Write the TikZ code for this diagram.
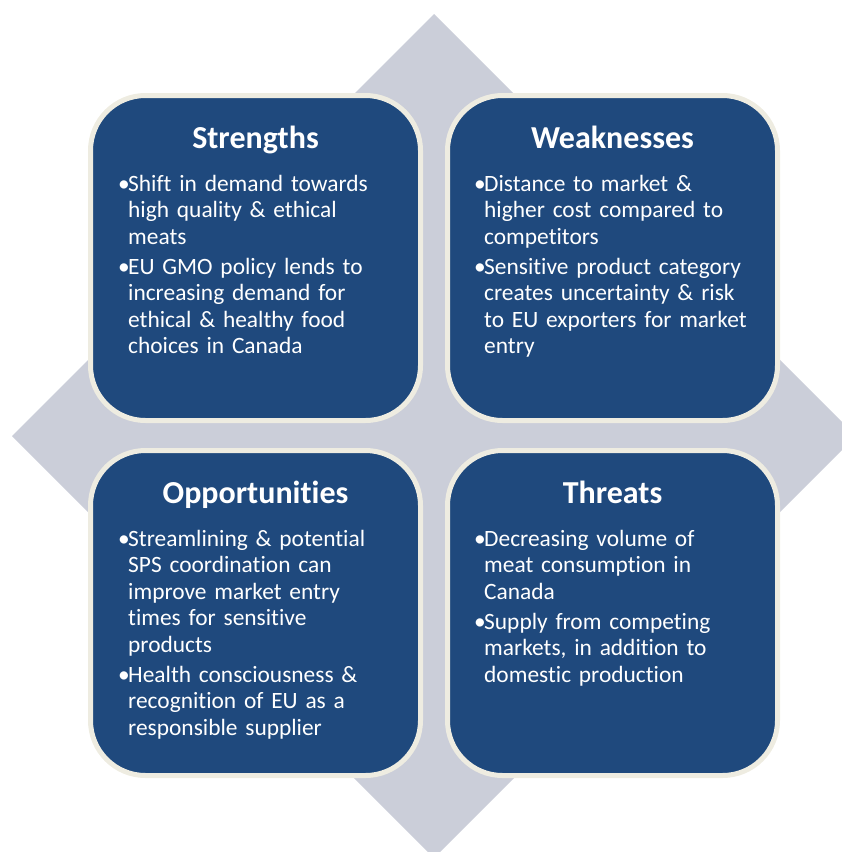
\documentclass[tikz,border=0pt]{standalone}
\usepackage{fontspec}
\setmainfont[Ligatures=NoCommon]{Carlito}
\usetikzlibrary{positioning}
\definecolor{swotblue}{RGB}{31, 73, 125}
\definecolor{swotedge}{RGB}{238, 236, 225}
\definecolor{swotgray}{RGB}{203, 206, 217}
\newcommand{\swotitem}[1]{\par\hangindent=10pt\hangafter=1\noindent\makebox[10pt][l]{•}#1\par}

\begin{document}
\begin{tikzpicture}[x=1pt, y=-1pt]
            \useasboundingbox (0,0) rectangle (842,852);
            % Rombo de fondo
            \fill[swotgray] (434,14) -- (856,436) -- (434,858) -- (12,436) -- cycle;

            % Cuadros
            \node[rectangle, draw=swotedge, line width=5pt, fill=swotblue, rounded corners=55pt, minimum width=330pt, minimum height=325pt] (strengths) at (255.5,258) {};
            \node[rectangle, draw=swotedge, line width=5pt, fill=swotblue, rounded corners=55pt, minimum width=330pt, minimum height=325pt, right=22pt of strengths] (weaknesses) {};
            \node[rectangle, draw=swotedge, line width=5pt, fill=swotblue, rounded corners=55pt, minimum width=330pt, minimum height=325pt, below=25pt of strengths] (opport) {};
            \node[rectangle, draw=swotedge, line width=5pt, fill=swotblue, rounded corners=55pt, minimum width=330pt, minimum height=325pt, below=25pt of weaknesses] (threats) {};

            % Titulos
            \node[anchor=base, text=white, font=\fontsize{32}{38}\selectfont\bfseries] (strtitle) at ([yshift=-55.5pt]strengths.north) {Strengths};
            \node[anchor=base, text=white, font=\fontsize{32}{38}\selectfont\bfseries] (weaktitle) at ([yshift=-55.5pt]weaknesses.north) {Weaknesses};
            \node[anchor=base, text=white, font=\fontsize{32}{38}\selectfont\bfseries] (opptitle) at ([yshift=-55.5pt]opport.north) {Opportunities};
            \node[anchor=base, text=white, font=\fontsize{32}{38}\selectfont\bfseries] (thrtitle) at ([yshift=-55.5pt]threats.north) {Threats};

            % Puntos
            \node[anchor=north west, inner sep=0pt, text=white, text width=300pt, font=\fontsize{23.4}{26.5}\selectfont] (strtext) at ([xshift=30pt, yshift=-71.5pt]strengths.north west) {%
                \swotitem{Shift in demand towards\newline high quality \& ethical\newline meats}\vspace{3.5pt}%
                \swotitem{EU GMO policy lends to\newline increasing demand for\newline ethical \& healthy food\newline choices in Canada}};
            \node[anchor=north west, inner sep=0pt, text=white, text width=300pt, font=\fontsize{23.4}{26.5}\selectfont] (weaktext) at ([xshift=29pt, yshift=-71.5pt]weaknesses.north west) {%
                \swotitem{Distance to market \&\newline higher cost compared to\newline competitors}\vspace{3.5pt}%
                \swotitem{Sensitive product category\newline creates uncertainty \& risk\newline to EU exporters for market\newline entry}};
            \node[anchor=north west, inner sep=0pt, text=white, text width=300pt, font=\fontsize{23.4}{26.5}\selectfont] (opptext) at ([xshift=30pt, yshift=-71.5pt]opport.north west) {%
                \swotitem{Streamlining \& potential\newline SPS coordination can\newline improve market entry\newline times for sensitive\newline products}\vspace{3.5pt}%
                \swotitem{Health consciousness \&\newline recognition of EU as a\newline responsible supplier}};
            \node[anchor=north west, inner sep=0pt, text=white, text width=300pt, font=\fontsize{23.4}{26.5}\selectfont] (thrtext) at ([xshift=29pt, yshift=-71.5pt]threats.north west) {%
                \swotitem{Decreasing volume of\newline meat consumption in\newline Canada}\vspace{3.5pt}%
                \swotitem{Supply from competing\newline markets, in addition to\newline domestic production}};
        \end{tikzpicture}
\end{document}
